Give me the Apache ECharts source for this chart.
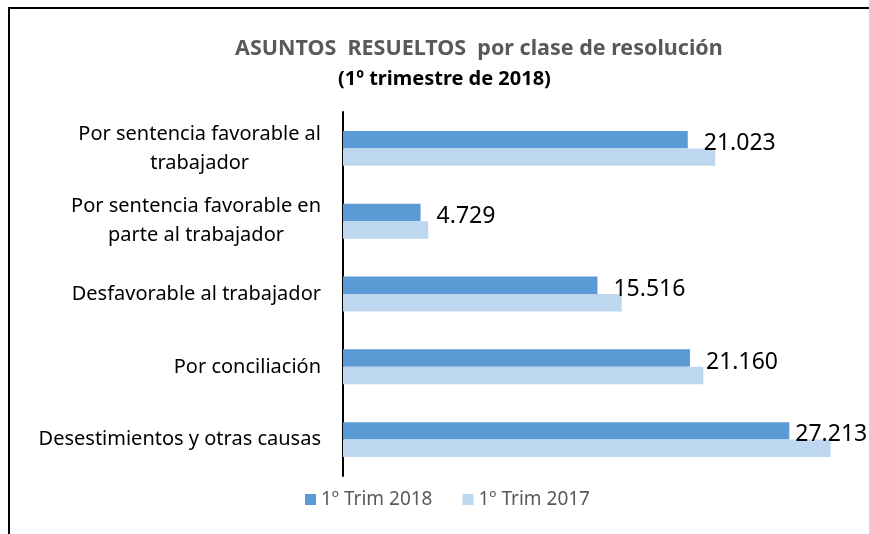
<!DOCTYPE html>
<html>
<head>
<meta charset="utf-8" />
<title>Asuntos resueltos</title>
<script src="https://cdn.jsdelivr.net/npm/echarts@6/dist/echarts.min.js"></script>
<style>
body { margin: 0; background: #fff; }
#chart { width: 869px; height: 534px; }
</style>
</head>
<body>
<div id="chart"></div>
<script>
// datos
var categorias = [
  'Por sentencia favorable al\ntrabajador',
  'Por sentencia favorable en\nparte al trabajador',
  'Desfavorable al trabajador',
  'Por conciliación',
  'Desestimientos y otras causas'
];
var serieNombres = ['1º Trim 2018', '1º Trim 2017'];
var trim2018 = [21023, 4729, 15516, 21160, 27213];
var trim2017 = [22700, 5200, 17000, 21970, 29730];

var fuente = 'Noto Sans';

function etiquetaNum(v) {
  // 21023 -> 21.023
  return String(v).replace(/\B(?=(\d{3})+(?!\d))/g, '.');
}

var chart = echarts.init(document.getElementById('chart'));

var datos2018 = trim2018.map(function (v, i) {
  var d = { value: v };
  // el último se recorta contra el borde derecho
  if (i === trim2018.length - 1) d.label = { distance: 6 };
  return d;
});

var option = {
  animation: false,
  title: [
    {
      text: 'ASUNTOS  RESUELTOS  por clase de resolución',
      left: 230, top: 33,
      textStyle: { fontFamily: fuente, fontSize: 21.5, fontWeight: 'bold', color: '#595959' }
    },
    {
      text: '(1º trimestre de 2018)',
      left: 333, top: 64,
      textStyle: { fontFamily: fuente, fontSize: 20, fontWeight: 'bold', color: '#000' }
    }
  ],
  graphic: [{
    // marco: solo borde izquierdo y superior visibles
    type: 'polyline',
    shape: { points: [[9, 560], [9, 8], [900, 8]] },
    style: { fill: 'none', stroke: '#000', lineWidth: 2 },
    silent: true
  }],
  legend: {
    data: serieNombres,
    left: 300, top: 485,
    itemWidth: 11, itemHeight: 11, itemGap: 30,
    icon: 'rect',
    textStyle: { fontFamily: fuente, fontSize: 19, color: '#595959' }
  },
  grid: { left: 343, right: 34, top: 112, height: 364, containLabel: false },
  xAxis: {
    type: 'value', min: 0, max: 30000, show: false,
    splitLine: { show: false }
  },
  yAxis: {
    type: 'category',
    inverse: true,
    data: categorias,
    axisLine: { lineStyle: { color: '#000', width: 2 } },
    axisTick: { show: false },
    axisLabel: {
      margin: 22,
      fontFamily: fuente,
      fontSize: 20,
      color: '#000',
      lineHeight: 29,
      formatter: function (v) {
        return v.split('\n').map(function (l) { return '{c|' + l + '}'; }).join('\n');
      },
      rich: { c: { align: 'center', fontFamily: fuente, fontSize: 20, color: '#000', lineHeight: 29 } }
    }
  },
  series: [
    {
      name: serieNombres[0], type: 'bar', data: datos2018,
      barGap: 0, barCategoryGap: '52%',
      itemStyle: { color: '#5B9BD5' },
      label: {
        show: true, position: 'right', distance: 16, offset: [0, 4],
        fontFamily: fuente, fontSize: 23, color: '#000',
        formatter: function (p) { return etiquetaNum(p.value); }
      }
    },
    {
      name: serieNombres[1], type: 'bar', data: trim2017,
      barGap: 0, barCategoryGap: '52%',
      itemStyle: { color: '#BDD7EE' }
    }
  ]
};

chart.setOption(option);
</script>
</body>
</html>
